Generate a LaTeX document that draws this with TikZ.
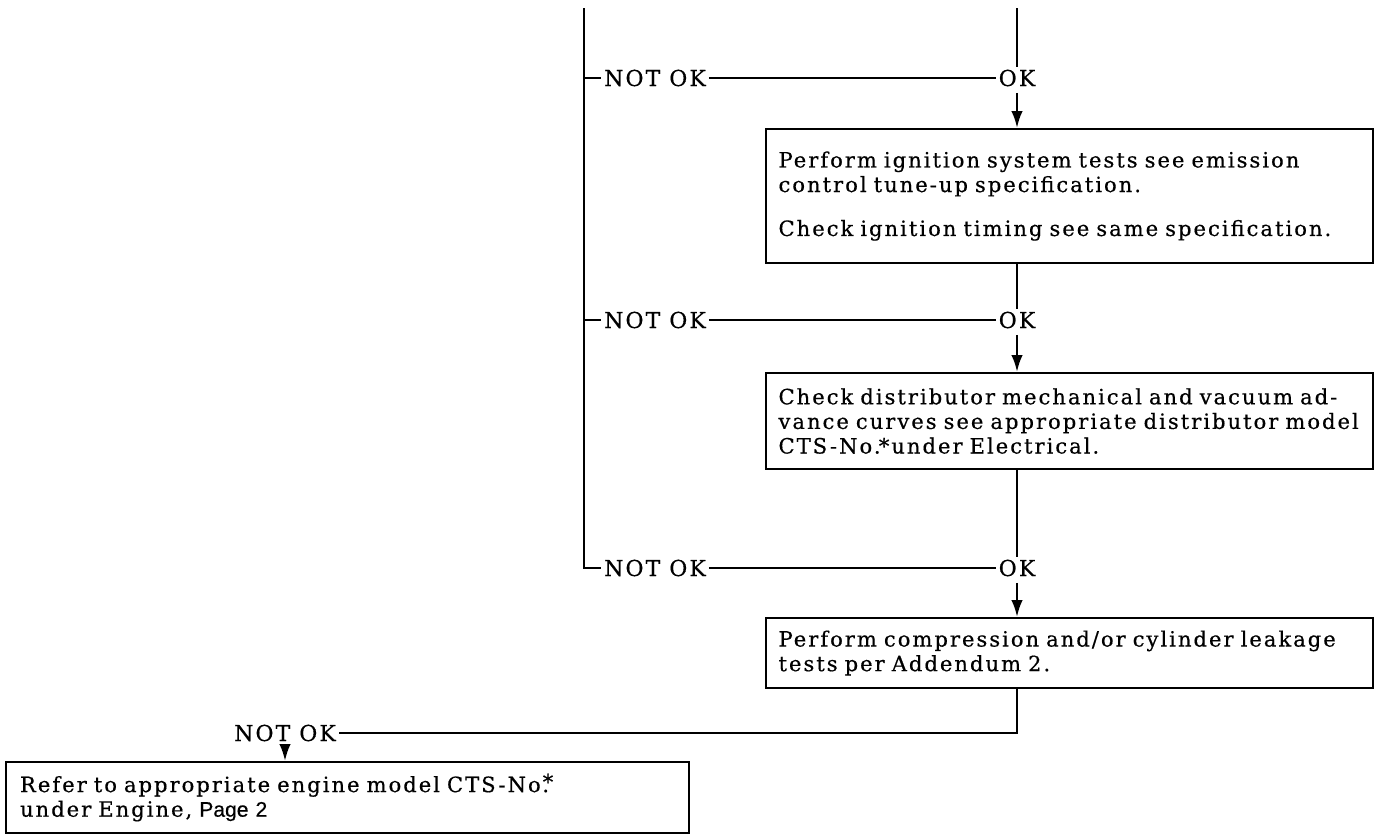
\documentclass[tikz,border=0pt]{standalone}
\usepackage{fontspec}
\setmainfont{DejaVu Serif}[LetterSpace=9.5,FakeBold=0.5]
\newfontfamily\pagefont{Liberation Sans}[FakeBold=0.5]
\usepackage{tikz}
\usetikzlibrary{arrows.meta,positioning}

\begin{document}
\begin{tikzpicture}[
    x=0.02cm, y=-0.02cm,
    stepbox/.style={draw,line width=1.2pt,anchor=north west,align=left,
      inner xsep=0.25cm,inner ysep=3pt,font=\fontsize{12}{14}\selectfont},
    answer/.style={inner sep=1.5pt,font=\fontsize{12.5}{14}\selectfont},
    link/.style={line width=1.4pt},
    arrow/.style={line width=1.4pt,-{Latex[length=3.4mm,width=2.3mm]},shorten <=2pt}
  ]
    \useasboundingbox (0,0) rectangle (1374,833);

    % incoming lines from the previous checks
    \coordinate (inl) at (584,8);
    \coordinate (inr) at (1017,8);
    \coordinate (corner) at (584,568);

    % first check
    \node[answer] (ok1) at (1017,78) {OK};
    \node[answer] (nok1) at (655,78) {NOT OK};
    \node[stepbox,minimum width=12.14cm,minimum height=2.68cm,text width=11.64cm] (ign) at (765,128)
      {Perform ignition system tests see emission\\control tune-up specification.\\[11pt]
       Check ignition timing see same specification.};

    % second check
    \node[answer] (ok2) at (1017,320) {OK};
    \node[answer] (nok2) at (655,320) {NOT OK};
    \node[stepbox,minimum width=12.14cm,minimum height=1.92cm,text width=11.64cm] (dist) at (765,372)
      {Check distributor mechanical and vacuum ad-\\vance curves see appropriate distributor model\\CTS-No.\kern-1pt*under Electrical.};

    % third check
    \node[answer] (ok3) at (1017,568) {OK};
    \node[answer] (nok3) at (655,568) {NOT OK};
    \node[stepbox,minimum width=12.14cm,minimum height=1.4cm,text width=11.64cm] (comp) at (765,617)
      {Perform compression and/or cylinder leakage\\tests per Addendum 2.};

    % fallback to the engine section
    \node[answer] (nok4) at (285,733) {NOT OK};
    \node[stepbox,minimum width=13.66cm,minimum height=1.42cm,text width=13.1cm] (eng) at (5,761)
      {Refer to appropriate engine model CTS-No.\kern-0.3em\raisebox{0.25ex}{*}\\under Engine, {\pagefont Page 2}};

    \draw[link] (inr) -- (ok1);
    \draw[link] (inl) -- (corner) -- (nok3);
    \draw[link] (inl |- nok1) -- (nok1);
    \draw[link] (inl |- nok2) -- (nok2);
    \draw[link] (nok1) -- (ok1);
    \draw[link] (nok2) -- (ok2);
    \draw[link] (nok3) -- (ok3);
    \draw[arrow] (ok1) -- (ok1 |- ign.north);
    \draw[link] (ok1 |- ign.south) -- (ok2);
    \draw[arrow] (ok2) -- (ok2 |- dist.north);
    \draw[link] (ok2 |- dist.south) -- (ok3);
    \draw[arrow] (ok3) -- (ok3 |- comp.north);
    \draw[link] (ok3 |- comp.south) |- (nok4);
    \draw[arrow] (nok4) -- (nok4 |- eng.north);
  \end{tikzpicture}
\end{document}
